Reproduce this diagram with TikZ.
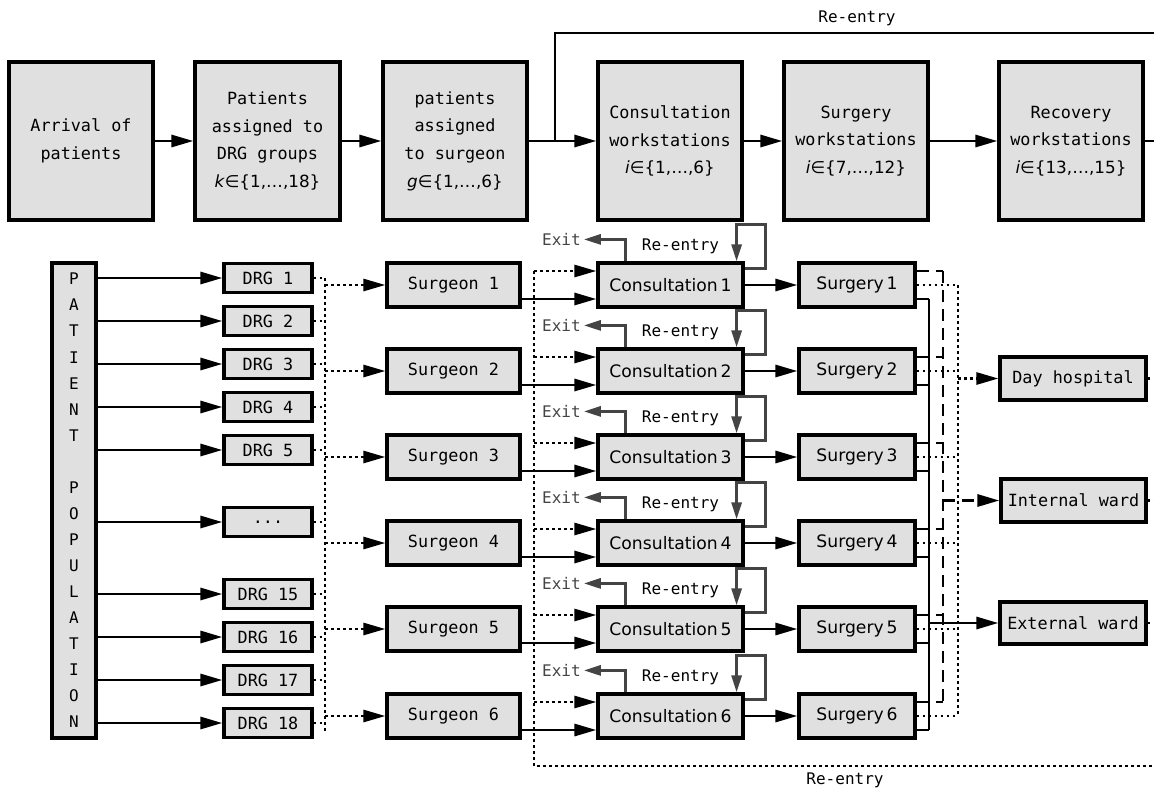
\documentclass[tikz,border=0pt]{standalone}
\usepackage{fontspec}
\setmainfont{DejaVu Sans Mono}
\newfontfamily\propf{DejaVu Sans}
\usetikzlibrary{arrows.meta}
\definecolor{boxgray}{HTML}{E0E0E0}
\definecolor{dgray}{HTML}{444444}
\newcommand\drgdots{...}
\begin{document}
\begin{tikzpicture}[x=1pt,y=-1pt,
  box/.style={draw, line width=3.2pt, fill=boxgray, inner sep=0pt, align=center},
  monof/.style={font=\fontsize{16.8}{27.7}\selectfont},
  propfont/.style={font=\propf\fontsize{17.2}{20}\selectfont},
  conn/.style={line width=2.9pt},
  tip/.style={-{Triangle[length=22pt,width=12pt]}},
  gtip/.style={-{Triangle[length=17pt,width=10pt]}},
  dots/.style={line width=2.7pt, dash pattern=on 2.7pt off 3.3pt},
  dashline/.style={line width=2.9pt, dash pattern=on 12pt off 7pt},
  gline/.style={line width=2.9pt, draw=dgray},
  lbl/.style={font=\fontsize{16}{18}\selectfont, inner sep=3pt},
]
\path[use as bounding box] (0,0) rectangle (1154,788);

% ---------- top row ----------
\node[box, monof, minimum width=144pt, minimum height=158pt] (t1) at (81,141) {Arrival of\\patients};
\node[box, monof, minimum width=145pt, minimum height=158pt] (t2) at (267.5,141) {Patients\\assigned to\\DRG groups\\{\propf\textit{k}∈\{1,…,18\}}};
\node[box, monof, minimum width=144pt, minimum height=158pt] (t3) at (455,141) {patients\\assigned\\to surgeon\\{\propf\textit{g}∈\{1,…,6\}}};
\node[box, monof, minimum width=144pt, minimum height=158pt] (t4) at (670,141) {Consultation\\workstations\\{\propf\textit{i}∈\{1,…,6\}}};
\node[box, monof, minimum width=144pt, minimum height=158pt] (t5) at (856,141) {Surgery\\workstations\\{\propf\textit{i}∈\{7,…,12\}}};
\node[box, monof, minimum width=144pt, minimum height=158pt] (t6) at (1071,141) {Recovery\\workstations\\{\propf\textit{i}∈\{13,…,15\}}};
\coordinate (edge) at (1154,0);
\coordinate (jn) at (555,141);
\draw[conn,tip] (t1.east) -- (t2.west);
\draw[conn,tip] (t2.east) -- (t3.west);
\draw[conn,tip] (t3.east) -- (t4.west);
\draw[conn,tip] (t4.east) -- (t5.west);
\draw[conn,tip] (t5.east) -- (t6.west);
\draw[conn] (t6.east) -- (t6.east -| edge);
\draw[conn] (jn) |- (1154,33);
\node[lbl] (re1) at (857,18) {Re-entry};

% ---------- patient population ----------
\node[box, minimum width=44pt, minimum height=475pt, font=\fontsize{16}{26.06}\selectfont] (pp) at (74,500.5)
  {P\\A\\T\\I\\E\\N\\T\\\mbox{}\\P\\O\\P\\U\\L\\A\\T\\I\\O\\N};

% ---------- DRG boxes ----------
\coordinate (vdrg) at (325,278);
\foreach \n/\t/\y in {1/DRG 1/278, 2/DRG 2/321, 3/DRG 3/364, 4/DRG 4/407, 5/DRG 5/450, 6/\drgdots/522, 15/DRG 15/594, 16/DRG 16/637, 17/DRG 17/680, 18/DRG 18/723}{
  \node[box, monof, minimum width=88pt, minimum height=29pt] (d\n) at (268,\y) {\t};
  \draw[conn,tip] (d\n.west -| pp.east) -- (d\n.west);
  \draw[dots] (d\n.east) -- (d\n.east -| vdrg);
}
\draw[dots] (vdrg) -- (325,732);

% ---------- surgeons, consultations, surgeries ----------
\coordinate (vcon) at (534,271);
\coordinate (vsol) at (929,299);
\coordinate (vdash) at (943,271);
\coordinate (vdot) at (958,285);
\foreach \i/\y in {1/285, 2/371, 3/457, 4/543, 5/629, 6/716}{
  \node[box, monof, minimum width=133pt, minimum height=44pt] (s\i) at (453.5,\y) {Surgeon \i};
  \node[box, propfont, minimum width=145pt, minimum height=44pt] (c\i) at (670.5,\y) {Consultation\,\i};
  \node[box, propfont, minimum width=116pt, minimum height=44pt] (g\i) at (857,\y) {Surgery\,\i};
  \draw[dots,tip] (s\i.west -| vdrg) -- (s\i.west);
  \draw[conn,tip] ([yshift=-14pt]s\i.east) -- ([yshift=-14pt]c\i.west);
  \coordinate (cin\i) at ([yshift=14pt]c\i.west);
  \draw[dots,tip] (cin\i -| vcon) -- (cin\i);
  \draw[conn,tip] (c\i.east) -- (g\i.west);
  % exit
  \node[lbl, text=dgray] (ex\i) at ([xshift=-35pt,yshift=22pt]c\i.north west) {Exit};
  \draw[gline,gtip] ([xshift=29pt]c\i.north west) |- (ex\i.east);
  % self loop
  \node[lbl] (rl\i) at ([xshift=10pt,yshift=15pt]c\i.north) {Re-entry};
  \draw[gline,gtip] ([yshift=-7pt]c\i.north east) -- ++(21,0) |- ([xshift=-8pt,yshift=37pt]c\i.north east) -- ([xshift=-8pt]c\i.north east);
  % surgery outputs
  \coordinate (gu\i) at ([yshift=14pt]g\i.east);
  \coordinate (gl\i) at ([yshift=-14pt]g\i.east);
  \draw[dashline] (gu\i) -- (gu\i -| vdash);
  \draw[dots] (g\i.east) -- (g\i.east -| vdot);
  \draw[conn] (gl\i) -- (gl\i -| vsol);
}
\draw[dots] (vcon) -- (534,766) -- (1154,766);
\node[lbl] (re2) at (845,780) {Re-entry};

\draw[dashline] (vdash) -- (943,702);
\draw[dots] (vdot) -- (958,716);
\draw[conn] (vsol) -- (929,730);

% ---------- right boxes ----------
\node[box, monof, minimum width=146pt, minimum height=43pt] (dh) at (1073,378.5) {Day hospital};
\node[box, monof, minimum width=145pt, minimum height=43pt] (iw) at (1073.5,500.5) {Internal ward};
\node[box, monof, minimum width=146pt, minimum height=42pt] (ew) at (1073,623) {External ward};
\draw[dots,tip] (dh.west -| vdot) -- (dh.west);
\draw[dashline,tip] (iw.west -| vdash) -- (iw.west);
\draw[conn,tip] (ew.west -| vsol) -- (ew.west);
\draw[dots] (dh.east) -- (dh.east -| edge);
\draw[dots] (iw.east) -- (iw.east -| edge);
\draw[dots] (ew.east) -- (ew.east -| edge);
\end{tikzpicture}
\end{document}
